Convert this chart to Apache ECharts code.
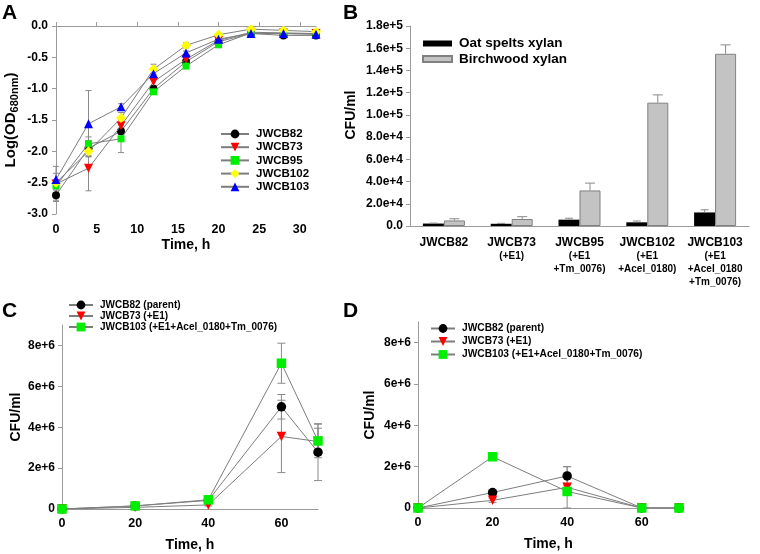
<!DOCTYPE html>
<html><head><meta charset="utf-8">
<script src="https://cdn.jsdelivr.net/npm/echarts@6/dist/echarts.min.js"></script>
<style>html,body{margin:0;padding:0;background:#fff}#c{width:760px;height:554px}</style>
</head><body><div id="c"></div>
<script>
// ---------- Panel A : growth curves ----------
const timeA = [0, 4, 8, 12, 16, 20, 24, 28, 32];
const namesA = ['JWCB82', 'JWCB73', 'JWCB95', 'JWCB102', 'JWCB103'];
const a82  = [-2.70, -1.95, -1.68, -1.00, -0.57, -0.25, -0.12, -0.15, -0.15];
const a73  = [-2.52, -2.27, -1.59, -0.89, -0.53, -0.23, -0.10, -0.11, -0.12];
const a95  = [-2.55, -1.88, -1.80, -1.05, -0.64, -0.30, -0.11, -0.12, -0.13];
const a102 = [-2.50, -2.00, -1.47, -0.69, -0.31, -0.14, -0.05, -0.07, -0.09];
const a103 = [-2.45, -1.56, -1.29, -0.76, -0.43, -0.21, -0.12, -0.12, -0.13];
const e82  = [0.08, 0.12, 0.05, 0.04, 0.03, 0.02, 0.02, 0.02, 0.02];
const e73  = [0.28, 0.36, 0.05, 0.06, 0.03, 0.02, 0.02, 0.02, 0.02];
const e95  = [0.05, 0.11, 0.22, 0.03, 0.03, 0.02, 0.02, 0.02, 0.02];
const e102 = [0.05, 0.08, 0.09, 0.08, 0.04, 0.02, 0.02, 0.02, 0.02];
const e103 = [0.10, 0.53, 0.05, 0.05, 0.03, 0.02, 0.02, 0.02, 0.02];
const xTicksA = [0, 5, 10, 15, 20, 25, 30];

// ---------- Panel B : CFU on xylans ----------
const strainsB = ['JWCB82', 'JWCB73', 'JWCB95', 'JWCB102', 'JWCB103'];
const subB = ['', '(+E1)', '(+E1\n+Tm_0076)', '(+E1\n+Acel_0180)', '(+E1\n+Acel_0180\n+Tm_0076)'];
const oat = [2200, 2000, 5700, 3300, 12200];
const oatErr = [400, 400, 1300, 1200, 2400];
const birch = [5000, 6300, 32000, 111000, 155000];
const birchErr = [1500, 2100, 6600, 7000, 8000];

// ---------- Panels C and D : CFU vs time ----------
const timeCD = [0, 20, 40, 60, 70];
const namesCD = ['JWCB82 (parent)', 'JWCB73 (+E1)', 'JWCB103 (+E1+Acel_0180+Tm_0076)'];
const c82  = [0, 150000, 420000, 5000000, 2780000];
const c73  = [0, 80000, 200000, 3550000, 3300000];
const c103 = [0, 150000, 450000, 7130000, 3330000];
const ce82  = [0, 50000, 50000, 600000, 1390000];
const ce73  = [0, 30000, 50000, 1770000, 650000];
const ce103 = [0, 50000, 50000, 980000, 820000];
const d82  = [0, 750000, 1550000, 0, 0];
const d73  = [0, 370000, 1000000, 0, 0];
const d103 = [0, 2480000, 800000, 0, 0];
const de82  = [0, 100000, 450000, 0, 0];
const de73  = [0, 100000, 1000000, 0, 0];
const de103 = [0, 50000, 50000, 0, 0];
const yTicksCD = [0, 2000000, 4000000, 6000000, 8000000];
const xTicksCD = [0, 20, 40, 60];

const FONT = '"Liberation Sans", Arial, sans-serif';
const AX = '#9a9a9a';
const LINE = '#7d7d7d';
const ERR = '#8a8a8a';

function errData(xs, ys, es) { return xs.map((x, i) => [x, ys[i] - es[i], ys[i] + es[i]]); }
function errRender(cap, off, topOnly) {
  return function (params, api) {
    const x = api.value(0), lo = api.value(1), hi = api.value(2);
    const p1 = api.coord([x, lo]), p2 = api.coord([x, hi]);
    const dx = off || 0;
    const st = { stroke: ERR, lineWidth: 1 };
    const ch = [
      { type: 'line', shape: { x1: p1[0] + dx, y1: p1[1], x2: p2[0] + dx, y2: p2[1] }, style: st },
      { type: 'line', shape: { x1: p2[0] + dx - cap, y1: p2[1], x2: p2[0] + dx + cap, y2: p2[1] }, style: st }
    ];
    if (!topOnly) ch.push({ type: 'line', shape: { x1: p1[0] + dx - cap, y1: p1[1], x2: p1[0] + dx + cap, y2: p1[1] }, style: st });
    return { type: 'group', children: ch };
  };
}
const lbl = { color: '#000', fontWeight: 'bold', fontFamily: FONT, fontSize: 12 };
const nameStyle = { color: '#000', fontWeight: 'bold', fontFamily: FONT, fontSize: 14 };
function valAxis(o) {
  return Object.assign({
    type: 'value', splitLine: { show: false },
    axisLine: { show: true, lineStyle: { color: AX, width: 1 } },
    axisTick: { show: true, length: 4, lineStyle: { color: AX } },
    axisLabel: Object.assign({}, lbl),
    nameTextStyle: nameStyle
  }, o);
}

const markA = [
  { s: 'circle', c: '#000000', z: 8, r: 0 },
  { s: 'triangle', c: '#ff0000', z: 9, r: 180 },
  { s: 'rect', c: '#00ee00', z: 7, r: 0 },
  { s: 'diamond', c: '#ffff00', z: 10, r: 0 },
  { s: 'triangle', c: '#0000ff', z: 9, r: 0 }
];
const dataA = [a82, a73, a95, a102, a103];
const errA = [e82, e73, e95, e102, e103];
const markCD = [
  { s: 'circle', c: '#000000', z: 9.5, r: 0 },
  { s: 'triangle', c: '#ff0000', z: 9.5, r: 180 },
  { s: 'rect', c: '#00ee00', z: 9.5, r: 0 }
];

const series = [];
// A
dataA.forEach((d, k) => {
  series.push({ type: 'custom', xAxisIndex: 0, yAxisIndex: 0, z: 1, silent: true,
    renderItem: errRender(3, 0, false), data: errData(timeA, d, errA[k]) });
});
dataA.forEach((d, k) => {
  series.push({ type: 'line', name: namesA[k], xAxisIndex: 0, yAxisIndex: 0, z: 2 + k,
    data: timeA.map((t, i) => [t, d[i]]), symbol: markA[k].s, symbolSize: markA[k].z, symbolRotate: markA[k].r,
    showAllSymbol: true, lineStyle: { color: LINE, width: 1 }, itemStyle: { color: markA[k].c, borderColor: markA[k].c, borderWidth: 0 } });
});
// B
series.push({ type: 'bar', name: 'Oat spelts xylan', xAxisIndex: 1, yAxisIndex: 1, data: oat, barWidth: 21, barGap: '0%',
  itemStyle: { color: '#000000' } });
series.push({ type: 'bar', name: 'Birchwood xylan', xAxisIndex: 1, yAxisIndex: 1, data: birch, barWidth: 21, barGap: '0%',
  itemStyle: { color: '#c3c3c3', borderColor: '#808080', borderWidth: 1 } });
series.push({ type: 'custom', xAxisIndex: 1, yAxisIndex: 1, z: 3, silent: true, renderItem: errRender(4, -10.5, true),
  data: oat.map((v, i) => [i, v, v + oatErr[i]]) });
series.push({ type: 'custom', xAxisIndex: 1, yAxisIndex: 1, z: 3, silent: true, renderItem: errRender(5, 10.5, true),
  data: birch.map((v, i) => [i, v, v + birchErr[i]]) });
// C and D
function addCD(ax, datas, errs) {
  datas.forEach((d, k) => {
    series.push({ type: 'custom', xAxisIndex: ax, yAxisIndex: ax, z: 1, silent: true,
      renderItem: errRender(4, 0, false), data: errData(timeCD, d, errs[k]) });
  });
  datas.forEach((d, k) => {
    series.push({ type: 'line', name: namesCD[k], xAxisIndex: ax, yAxisIndex: ax, z: 2 + k,
      data: timeCD.map((t, i) => [t, d[i]]), symbol: markCD[k].s, symbolSize: markCD[k].z, symbolRotate: markCD[k].r,
      showAllSymbol: true, lineStyle: { color: LINE, width: 1 }, itemStyle: { color: markCD[k].c } });
  });
}
addCD(2, [c82, c73, c103], [ce82, ce73, ce103]);
addCD(3, [d82, d73, d103], [de82, de73, de103]);

function fmtB(v) {
  if (v === 0) return '0.0';
  const e = Math.floor(Math.log10(v) + 1e-9);
  return (v / Math.pow(10, e)).toFixed(1) + 'e+' + e;
}
function fmtCD(v) {
  if (v === 0) return '0';
  const e = Math.floor(Math.log10(v) + 1e-9);
  return Math.round(v / Math.pow(10, e)) + 'e+' + e;
}

const legTxt = (fs) => ({ color: '#000', fontWeight: 'bold', fontFamily: FONT, fontSize: fs, padding: [0, 0, 0, 2] });

const option = {
  animation: false,
  backgroundColor: '#fff',
  grid: [
    { left: 56, top: 26, width: 260, height: 188 },
    { left: 410, top: 26, width: 339, height: 200 },
    { left: 62, top: 325, width: 256, height: 184 },
    { left: 418, top: 322, width: 261, height: 186 }
  ],
  xAxis: [
    valAxis({ gridIndex: 0, min: 0, max: 32, name: 'Time, h', nameLocation: 'middle', nameGap: 24,
      axisTick: { show: true, inside: true, length: 4, lineStyle: { color: AX }, customValues: xTicksA },
      axisLabel: Object.assign({}, lbl, { fontSize: 12.5, margin: 9, customValues: xTicksA }) }),
    { type: 'category', gridIndex: 1, data: strainsB,
      axisLine: { show: true, lineStyle: { color: AX } }, axisTick: { show: false },
      axisLabel: { interval: 0, margin: 9, fontFamily: FONT, color: '#000',
        formatter: (v, i) => '{a|' + v + '}' + (subB[i] ? subB[i].split('\n').map(s => '\n{b|' + s + '}').join('') : ''),
        rich: { a: { fontSize: 12, fontWeight: 'bold', fontFamily: FONT, color: '#000', lineHeight: 15 },
                b: { fontSize: 10, fontWeight: 'bold', fontFamily: FONT, color: '#000', lineHeight: 13 } } } },
    valAxis({ gridIndex: 2, min: 0, max: 70, name: 'Time, h', nameLocation: 'middle', nameGap: 29,
      axisTick: { show: false },
      axisLabel: Object.assign({}, lbl, { fontSize: 12.5, margin: 8, customValues: xTicksCD }) }),
    valAxis({ gridIndex: 3, min: 0, max: 70, name: 'Time, h', nameLocation: 'middle', nameGap: 29,
      axisTick: { show: false },
      axisLabel: Object.assign({}, lbl, { fontSize: 12.5, margin: 8, customValues: xTicksCD }) })
  ],
  yAxis: [
    valAxis({ gridIndex: 0, min: -3, max: 0, interval: 0.5, name: '{a|Log(OD}{s|680nm}{a|)}', nameLocation: 'middle', nameGap: 36,
      nameTextStyle: { rich: { a: Object.assign({}, nameStyle, { fontSize: 15 }), s: { color: '#000', fontWeight: 'bold', fontFamily: FONT, fontSize: 11, padding: [7, 0, 0, 0] } } },
      axisLabel: Object.assign({}, lbl, { margin: 8, formatter: v => v.toFixed(1) }) }),
    valAxis({ gridIndex: 1, min: 0, max: 180000, interval: 20000, name: 'CFU/ml', nameLocation: 'middle', nameGap: 52,
      nameTextStyle: Object.assign({}, nameStyle, { padding: [0, 0, 0, 22] }),
      axisLabel: Object.assign({}, lbl, { margin: 7, formatter: fmtB }) }),
    valAxis({ gridIndex: 2, min: 0, max: 9000000, name: 'CFU/ml', nameLocation: 'middle', nameGap: 39,
      axisTick: { show: true, length: 4, lineStyle: { color: AX }, customValues: yTicksCD },
      axisLabel: Object.assign({}, lbl, { margin: 7, customValues: yTicksCD, formatter: fmtCD }) }),
    valAxis({ gridIndex: 3, min: 0, max: 9000000, name: 'CFU/ml', nameLocation: 'middle', nameGap: 41,
      axisTick: { show: true, length: 4, lineStyle: { color: AX }, customValues: yTicksCD },
      axisLabel: Object.assign({}, lbl, { margin: 7, customValues: yTicksCD, formatter: fmtCD }) })
  ],
  legend: [
    { orient: 'vertical', left: 220, top: 128, padding: 0, itemWidth: 28, itemHeight: 11, itemGap: 1.2,
      data: namesA, textStyle: legTxt(11.5) },
    { orient: 'vertical', left: 422, top: 36.5, padding: 0, itemWidth: 29, itemHeight: 6, itemGap: 1.5, icon: 'rect',
      data: ['Oat spelts xylan', 'Birchwood xylan'], textStyle: legTxt(13.5) },
    { orient: 'vertical', left: 68, top: 300, padding: 0, itemWidth: 24, itemHeight: 11, itemGap: 1,
      data: namesCD, textStyle: legTxt(10) },
    { orient: 'vertical', left: 430, top: 323.5, padding: 0, itemWidth: 24, itemHeight: 11, itemGap: 3,
      data: namesCD, textStyle: legTxt(10.2) }
  ],
  graphic: [
    { type: 'text', left: 2, top: 3, style: { text: 'A', font: 'bold 21px ' + FONT, fill: '#000' } },
    { type: 'text', left: 343, top: 3, style: { text: 'B', font: 'bold 21px ' + FONT, fill: '#000' } },
    { type: 'text', left: 2, top: 301, style: { text: 'C', font: 'bold 21px ' + FONT, fill: '#000' } },
    { type: 'text', left: 343, top: 301, style: { text: 'D', font: 'bold 21px ' + FONT, fill: '#000' } }
  ],
  series: series
};
const chart = echarts.init(document.getElementById('c'), null, { renderer: 'canvas' });
chart.setOption(option);
</script></body></html>
